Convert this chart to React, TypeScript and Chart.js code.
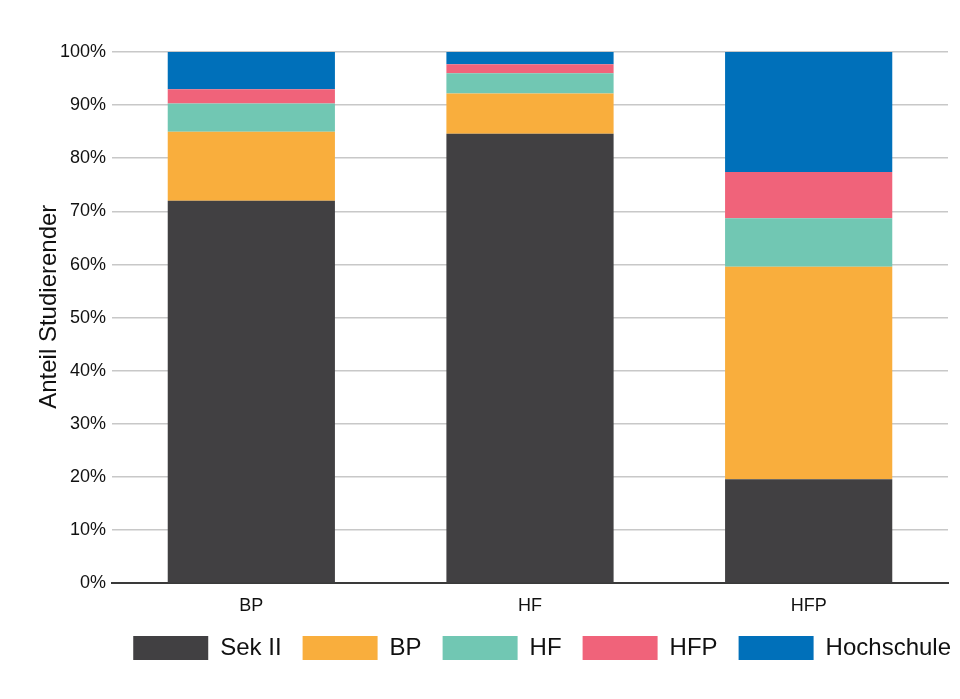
import React, { useEffect, useRef } from "react";
import { Chart, registerables } from "chart.js";

Chart.register(...registerables);

const categories = ["BP", "HF", "HFP"];
const seriesNames = ["Sek II", "BP", "HF", "HFP", "Hochschule"];
const sekII = [72.0, 84.6, 19.6];
const bp = [13.0, 7.6, 40.0];
const hf = [5.3, 3.8, 9.1];
const hfp = [2.7, 1.7, 8.7];
const hochschule = [7.0, 2.3, 22.6];
const colors = ["#414042", "#F9AE3D", "#71C7B3", "#F0637A", "#0070BA"];
const yTitle = "Anteil Studierender";

const FONT = "'Liberation Sans', Arial, sans-serif";

const yTitlePlugin = {
  id: "yTitlePlugin",
  afterLayout(chart: any) {
    if (chart.legend) {
      chart.legend.top -= 14;
      chart.legend.bottom -= 14;
    }
  },
  afterDraw(chart: any) {
    const { ctx, chartArea } = chart;
    const yScale = chart.scales.y;
    ctx.save();
    ctx.fillStyle = "#111";
    ctx.font = `24px ${FONT}`;
    ctx.textAlign = "center";
    ctx.textBaseline = "middle";
    ctx.translate(yScale.left + 41, (chartArea.top + chartArea.bottom) / 2 - 11);
    ctx.rotate(-Math.PI / 2);
    ctx.fillText(yTitle, 0, 0);
    ctx.restore();
  },
};

export default function App() {
  const ref = useRef<HTMLCanvasElement | null>(null);

  useEffect(() => {
    if (!ref.current) return;
    const series = [sekII, bp, hf, hfp, hochschule];
    const chart = new Chart(ref.current, {
      type: "bar",
      data: {
        labels: categories,
        datasets: series.map((values, i) => ({
          label: seriesNames[i],
          data: values,
          backgroundColor: colors[i],
          borderWidth: 0,
          categoryPercentage: 1,
          barPercentage: 0.6,
        })),
      },
      plugins: [yTitlePlugin],
      options: {
        animation: false,
        responsive: false,
        devicePixelRatio: 1,
        layout: { padding: { top: 44, bottom: 7, left: 0, right: 0 } },
        plugins: {
          tooltip: { enabled: false },
          legend: {
            position: "bottom",
            align: "end",
            labels: {
              boxWidth: 75,
              boxHeight: 24,
              padding: 21,
              color: "#111",
              font: { family: FONT, size: 24 },
            },
          },
        },
        scales: {
          x: {
            stacked: true,
            grid: { display: false, drawTicks: false },
            border: { display: true, color: "#3a3a3a", width: 2 },
            ticks: { color: "#111", font: { family: FONT, size: 18 }, padding: 12 },
          },
          y: {
            stacked: true,
            min: 0,
            max: 100,
            afterFit: (s: any) => {
              s.width = 104;
            },
            ticks: {
              stepSize: 10,
              padding: 6,
              color: "#111",
              font: { family: FONT, size: 18 },
              callback: (v: any) => v + "%",
            },
            grid: {
              drawTicks: false,
              lineWidth: 1.6,
              color: (ctx: any) => (ctx.tick && ctx.tick.value === 0 ? "rgba(0,0,0,0)" : "#c8c8c8"),
            },
            border: { display: false },
            title: { display: false },
          },
          yRight: {
            position: "right",
            display: true,
            grid: { display: false },
            border: { display: false },
            ticks: { display: false },
            afterFit: (s: any) => {
              s.width = 24;
            },
          },
        },
      },
    });
    return () => chart.destroy();
  }, []);

  return (
    <div style={{ position: "relative" }}>
      <div
        style={{
          position: "absolute",
          top: -5,
          left: -3,
          right: -8,
          height: 20,
          borderTop: "1px solid #ececec",
          borderLeft: "1px solid #ececec",
          pointerEvents: "none",
        }}
      />
      <div style={{ width: 944, overflow: "hidden" }}>
        <canvas ref={ref} width={964} height={683} style={{ display: "block" }} />
      </div>
    </div>
  );
}
